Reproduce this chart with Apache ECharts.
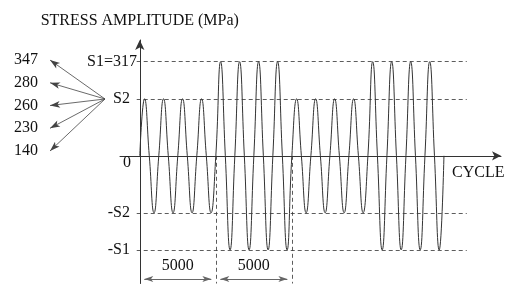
<!DOCTYPE html>
<html>
<head>
<meta charset="utf-8">
<script src="https://cdn.jsdelivr.net/npm/echarts@6/dist/echarts.min.js"></script>
<style>
  html, body { margin: 0; padding: 0; background: #fff; }
  #chart { width: 505px; height: 284px; }
</style>
</head>
<body>
<div id="chart"></div>
<script>
// stress levels (S2 is not given in the figure, estimated from its height)
var S1 = 317;
var S2 = 192;
var blockCycles = 5000;
var wavesPerBlock = 4;
// peak amplitude of every drawn wave, left to right
var peaks = [S2, S2, S2, S2, S1, S1, S1, S1, S2, S2, S2, S2, S1, S1, S1, S1];
var levelValues = [S1, S2, 0, -S2, -S1];
var levelLabels = ['S1=317', 'S2', '0', '-S2', '-S1'];
var leftLabels = ['347', '280', '260', '230', '140'];
var spanStarts = [0, 5000];
var spanLabels = ['5000', '5000'];

var FONT = 'Liberation Serif';
var chart = echarts.init(document.getElementById('chart'), null, { renderer: 'canvas' });

var waveLen = blockCycles / wavesPerBlock;
var wave = [];
peaks.forEach(function (a, k) {
  var x0 = k * waveLen;
  wave.push([x0, 0], [x0 + waveLen / 4, a], [x0 + waveLen / 2, 0], [x0 + waveLen * 3 / 4, -a]);
});
wave.push([peaks.length * waveLen, 0]);

var dash = { type: [4, 3], color: '#333', width: 0.8 };
var inset = 296; // arrow heads are centred on the end point, pull them in by half a head
var marks = [];
[S1, S2, -S2, -S1].forEach(function (v) {
  marks.push([{ coord: [-200, v], lineStyle: dash }, { coord: [21500, v] }]);
});
spanStarts.forEach(function (x, i) {
  marks.push([{ coord: [x + blockCycles, 0], lineStyle: dash }, { coord: [x + blockCycles, -430] }]);
  marks.push([
    { coord: [x + inset, -415], symbol: 'arrow', symbolSize: [4.5, 9], lineStyle: { type: 'solid', color: '#666', width: 1 },
      label: { show: true, formatter: spanLabels[i], position: 'middle', distance: 5,
               color: '#111', fontFamily: FONT, fontSize: 16 } },
    { coord: [x + blockCycles - inset, -415], symbol: 'arrow', symbolSize: [4.5, 9] }
  ]);
});

var anchorIdx = 1.714; // where the arrows meet, level with S2

var option = {
  animation: false,
  grid: [
    { left: 120, top: 40, width: 381, height: 243.5, outerBoundsMode: 'none' },
    { left: 50, top: 60, width: 55, height: 91, outerBoundsMode: 'none' }
  ],
  xAxis: [
    {
      type: 'value', min: -1300, max: 23750,
      axisLine: { onZero: true, symbol: ['none', 'arrow'], symbolSize: [7, 9], lineStyle: { color: '#333', width: 1 } },
      axisTick: { show: false }, axisLabel: { show: false }, splitLine: { show: false },
      name: 'CYCLE', nameLocation: 'end', nameGap: -49,
      nameTextStyle: { fontFamily: FONT, fontSize: 16, color: '#111', align: 'left', verticalAlign: 'top', padding: [9, 0, 0, 0] }
    },
    { gridIndex: 1, type: 'value', min: 0, max: 55, show: false }
  ],
  yAxis: [
    {
      type: 'value', min: -430, max: 390,
      axisLine: { onZero: true, symbol: ['none', 'arrow'], symbolSize: [7, 10], lineStyle: { color: '#333', width: 1 } },
      axisTick: { show: false },
      axisLabel: {
        customValues: levelValues, margin: -17,
        fontFamily: FONT, fontSize: 16, color: '#111',
        formatter: function (v) {
          var t = levelLabels[levelValues.indexOf(v)];
          if (v === S1) return '{a|' + t + '}';
          if (v === 0) return '{z|' + t + '}';
          return '{b|' + t + '}';
        },
        rich: {
          a: { fontFamily: FONT, fontSize: 16, color: '#111' },
          b: { fontFamily: FONT, fontSize: 16, color: '#111', padding: [0, 7, 0, 0] },
          z: { fontFamily: FONT, fontSize: 16, color: '#111', padding: [14, 6, 0, 0] }
        }
      },
      splitLine: { show: false },
      name: 'STRESS AMPLITUDE (MPa)', nameLocation: 'end', nameGap: 11,
      nameTextStyle: { fontFamily: FONT, fontSize: 16, color: '#111' }
    },
    {
      gridIndex: 1, type: 'value', min: 0, max: 4, inverse: true,
      axisLine: { show: false }, axisTick: { show: false }, splitLine: { show: false },
      axisLabel: {
        customValues: [0, 1, 2, 3, 4], margin: 12,
        fontFamily: FONT, fontSize: 16, color: '#111',
        formatter: function (v) { return leftLabels[v]; }
      }
    }
  ],
  series: [
    {
      type: 'line', data: wave, smooth: 0.5, showSymbol: false, symbol: 'none',
      lineStyle: { color: '#333', width: 1 },
      markLine: { silent: true, symbol: 'none', animation: false, label: { show: false }, data: marks }
    },
    {
      type: 'lines', coordinateSystem: 'cartesian2d', xAxisIndex: 1, yAxisIndex: 1,
      symbol: ['none', 'arrow'], symbolSize: [0, [5, 10]],
      lineStyle: { color: '#444', width: 0.8, opacity: 1 },
      data: leftLabels.map(function (l, i) {
        return { coords: [[55, anchorIdx], [0, i]] };
      })
    }
  ]
};
chart.setOption(option);
</script>
</body>
</html>
